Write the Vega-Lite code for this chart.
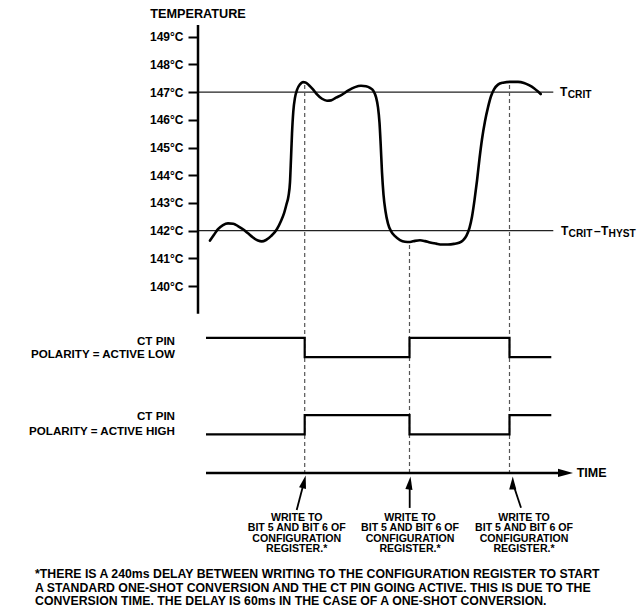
{
  "$schema": "https://vega.github.io/schema/vega-lite/v6.json",
  "width": 638,
  "height": 613,
  "padding": 0,
  "autosize": {"type": "none"},
  "background": "white",
  "config": {"view": {"stroke": null}},
  "datasets": {
    "curve": [
      {"t":12,"temp":141.64},{"t":16,"temp":141.85},{"t":20,"temp":142.05},{"t":25,"temp":142.2},{"t":30,"temp":142.26},{"t":35.3,"temp":142.25},{"t":40,"temp":142.16},{"t":45,"temp":142.05},{"t":50,"temp":141.9},{"t":55,"temp":141.75},{"t":60,"temp":141.64},{"t":63.7,"temp":141.61},{"t":68,"temp":141.66},{"t":73,"temp":141.8},{"t":78.7,"temp":142.04},{"t":83,"temp":142.35},{"t":86,"temp":142.62},{"t":88.5,"temp":142.95},{"t":90.5,"temp":143.25},{"t":92,"temp":143.75},{"t":93,"temp":144.6},{"t":94,"temp":145.5},{"t":95.3,"temp":146.3},{"t":97,"temp":146.8},{"t":99,"temp":147.08},{"t":102,"temp":147.28},{"t":105,"temp":147.36},{"t":107.5,"temp":147.35},{"t":111,"temp":147.25},{"t":115,"temp":147.1},{"t":119,"temp":146.92},{"t":124,"temp":146.76},{"t":129,"temp":146.69},{"t":133,"temp":146.7},{"t":138,"temp":146.8},{"t":143.7,"temp":146.9},{"t":150,"temp":147.05},{"t":157,"temp":147.18},{"t":163,"temp":147.23},{"t":168,"temp":147.21},{"t":172,"temp":147.15},{"t":175.3,"temp":147.05},{"t":178,"temp":146.82},{"t":180,"temp":146.45},{"t":181.5,"temp":145.9},{"t":182.7,"temp":145.1},{"t":184,"temp":144.1},{"t":185.5,"temp":143.3},{"t":187.5,"temp":142.7},{"t":190,"temp":142.25},{"t":193,"temp":141.98},{"t":197,"temp":141.8},{"t":202,"temp":141.66},{"t":207,"temp":141.6},{"t":212,"temp":141.59},{"t":217,"temp":141.63},{"t":222,"temp":141.65},{"t":227,"temp":141.62},{"t":232,"temp":141.57},{"t":238,"temp":141.53},{"t":244,"temp":141.5},{"t":250,"temp":141.5},{"t":256,"temp":141.52},{"t":261,"temp":141.56},{"t":265,"temp":141.65},{"t":268.5,"temp":141.82},{"t":271.5,"temp":142.1},{"t":274,"temp":142.5},{"t":276.5,"temp":143.1},{"t":279,"temp":143.8},{"t":281.5,"temp":144.6},{"t":284,"temp":145.3},{"t":287,"temp":145.95},{"t":290,"temp":146.45},{"t":293,"temp":146.85},{"t":296,"temp":147.1},{"t":300,"temp":147.27},{"t":305,"temp":147.34},{"t":312,"temp":147.37},{"t":320,"temp":147.37},{"t":326,"temp":147.33},{"t":331,"temp":147.25},{"t":336,"temp":147.14},{"t":340,"temp":147.02},{"t":342.7,"temp":146.93}
    ],
    "refs": [
      {"name":"TCRIT","t":0,"t2":355.3,"temp":147},
      {"name":"TCRIT-THYST","t":0,"t2":355.3,"temp":142}
    ],
    "taxis": [{"t":0,"temp":149.42,"temp2":139.0}],
    "ttitle": [{"t":0,"temp":149.82,"text":"TEMPERATURE"}],
    "tlabels": [
      {"t":362,"temp":147,"text":"T"},
      {"t":363,"temp":142,"text":"T"},
      {"t":396,"temp":142,"text":"–"},
      {"t":403,"temp":142,"text":"T"}
    ],
    "tsubs": [
      {"t":369.7,"temp":147,"text":"CRIT"},
      {"t":370.6,"temp":142,"text":"CRIT"},
      {"t":410.6,"temp":142,"text":"HYST"}
    ],
    "pins": [
      {"signal":"low","t":8,"v":7},{"signal":"low","t":106.7,"v":6},{"signal":"low","t":211.5,"v":7},{"signal":"low","t":311.5,"v":6},{"signal":"low","t":353.3,"v":6},
      {"signal":"high","t":8,"v":2},{"signal":"high","t":106.7,"v":3},{"signal":"high","t":211.5,"v":2},{"signal":"high","t":311.5,"v":3},{"signal":"high","t":353.3,"v":3}
    ],
    "dashed": [
      {"t":106.7,"v":20.1,"v2":0},
      {"t":211.5,"v":11.81,"v2":0},
      {"t":311.5,"v":20.1,"v2":0}
    ],
    "timeaxis": [{"t":8,"t2":362,"v":0}],
    "timehead": [{"t":367.5,"v":0}],
    "shafts": [
      {"id":"w1","t":98.7,"v":-1.917,"t2":106.1,"v2":-0.456},
      {"id":"w2","t":211.7,"v":-1.81,"t2":211.7,"v2":-0.518},
      {"id":"w3","t":323,"v":-1.8,"t2":314.75,"v2":-0.513}
    ],
    "heads": [
      {"id":"w1","t":106.1,"v":-0.456},
      {"id":"w2","t":211.7,"v":-0.518},
      {"id":"w3","t":314.75,"v":-0.513}
    ],
    "writes": [
      {"t":98.7,"v":-2.07,"text":"WRITE TO\nBIT 5 AND BIT 6 OF\nCONFIGURATION\nREGISTER.*"},
      {"t":212,"v":-2.07,"text":"WRITE TO\nBIT 5 AND BIT 6 OF\nCONFIGURATION\nREGISTER.*"},
      {"t":326,"v":-2.07,"text":"WRITE TO\nBIT 5 AND BIT 6 OF\nCONFIGURATION\nREGISTER.*"}
    ],
    "pinlabels": [
      {"t":-23,"v":6.81,"text":"CT PIN"},
      {"t":-23,"v":6.09,"text":"POLARITY = ACTIVE LOW"},
      {"t":-23,"v":2.92,"text":"CT PIN"},
      {"t":-23,"v":2.14,"text":"POLARITY = ACTIVE HIGH"}
    ],
    "timelabel": [{"t":378.7,"v":0,"text":"TIME"}],
    "footnote": [
      {"t":-163,"v":-4.907,"text":"*THERE IS A 240ms DELAY BETWEEN WRITING TO THE CONFIGURATION REGISTER TO START\n\u00a0\u00a0A STANDARD ONE-SHOT CONVERSION AND THE CT PIN GOING ACTIVE. THIS IS DUE TO THE\n\u00a0\u00a0CONVERSION TIME. THE DELAY IS 60ms IN THE CASE OF A ONE-SHOT CONVERSION."}
    ]
  },
  "encoding": {
    "x": {"field":"t","type":"quantitative","scale":{"domain":[-198,440],"nice":false,"zero":false},"axis":null}
  },
  "layer": [
    {
      "encoding": {
        "y": {"field":"temp","type":"quantitative","scale":{"domain":[128.195,150.325],"nice":false,"zero":false},
          "axis":{"values":[140,141,142,143,144,145,146,147,148,149],"labelExpr":"datum.value + '°C'","offset":-198,"domain":false,"grid":false,"ticks":true,"tickSize":10,"tickWidth":2,"tickColor":"black","labelFont":"Liberation Sans","labelFontWeight":"bold","labelFontSize":12,"labelColor":"black","labelPadding":5,"title":null}}
      },
      "layer": [
        {"data":{"name":"refs"},"mark":{"type":"rule","color":"#222","strokeWidth":1.3},"encoding":{"x2":{"field":"t2"}}},
        {"data":{"name":"taxis"},"mark":{"type":"rule","color":"black","strokeWidth":2.5},"encoding":{"y2":{"field":"temp2"}}},
        {"data":{"name":"curve"},"mark":{"type":"line","color":"black","strokeWidth":2.6,"interpolate":"monotone","strokeCap":"round"},"encoding":{}},
        {"data":{"name":"ttitle"},"mark":{"type":"text","font":"Liberation Sans","fontWeight":"bold","fontSize":12.7,"color":"black","align":"center","baseline":"middle"},"encoding":{"text":{"field":"text"}}},
        {"data":{"name":"tlabels"},"mark":{"type":"text","font":"Liberation Sans","fontWeight":"bold","fontSize":12,"color":"black","align":"left","baseline":"middle"},"encoding":{"text":{"field":"text"}}},
        {"data":{"name":"tsubs"},"mark":{"type":"text","font":"Liberation Sans","fontWeight":"bold","fontSize":10.2,"color":"black","align":"left","baseline":"middle","dy":3},"encoding":{"text":{"field":"text"}}}
      ]
    },
    {
      "encoding": {
        "y": {"field":"v","type":"quantitative","scale":{"domain":[-7.254,24.508],"nice":false,"zero":false},"axis":null}
      },
      "layer": [
        {"data":{"name":"dashed"},"mark":{"type":"rule","color":"#555","strokeWidth":1.2,"strokeDash":[4,3]},"encoding":{"y2":{"field":"v2"}}},
        {"data":{"name":"pins"},"mark":{"type":"line","color":"black","strokeWidth":2.2,"interpolate":"step-after"},"encoding":{"detail":{"field":"signal"}}},
        {"data":{"name":"timeaxis"},"mark":{"type":"rule","color":"black","strokeWidth":2.5},"encoding":{"x2":{"field":"t2"}}},
        {"data":{"name":"timehead"},"mark":{"type":"point","filled":true,"color":"black","opacity":1,"size":225,"shape":"M-1,-0.55L1,0L-1,0.55Z"},"encoding":{}},
        {"data":{"name":"shafts"},"mark":{"type":"rule","color":"black","strokeWidth":1.8},"encoding":{"x2":{"field":"t2"},"y2":{"field":"v2"}}},
        {"data":{"name":"heads"},"mark":{"type":"point","filled":true,"color":"black","opacity":1,"size":169,"shape":"M0,-1L0.55,1L-0.55,1Z"},"encoding":{"angle":{"field":"id","type":"ordinal","scale":{"domain":["w1","w2","w3"],"range":[14,0,342]},"legend":null}}},
        {"data":{"name":"writes"},"mark":{"type":"text","font":"Liberation Sans","fontWeight":"bold","fontSize":10.6,"lineHeight":10.5,"lineBreak":"\n","color":"black","align":"center","baseline":"top"},"encoding":{"text":{"field":"text"}}},
        {"data":{"name":"pinlabels"},"mark":{"type":"text","font":"Liberation Sans","fontWeight":"bold","fontSize":11.6,"color":"black","align":"right","baseline":"middle"},"encoding":{"text":{"field":"text"}}},
        {"data":{"name":"timelabel"},"mark":{"type":"text","font":"Liberation Sans","fontWeight":"bold","fontSize":12.5,"color":"black","align":"left","baseline":"middle"},"encoding":{"text":{"field":"text"}}},
        {"data":{"name":"footnote"},"mark":{"type":"text","font":"Liberation Sans","fontWeight":"bold","fontSize":12.3,"lineHeight":13.8,"lineBreak":"\n","color":"black","align":"left","baseline":"top"},"encoding":{"text":{"field":"text"}}}
      ]
    }
  ],
  "resolve": {"scale": {"y": "independent"}}
}
